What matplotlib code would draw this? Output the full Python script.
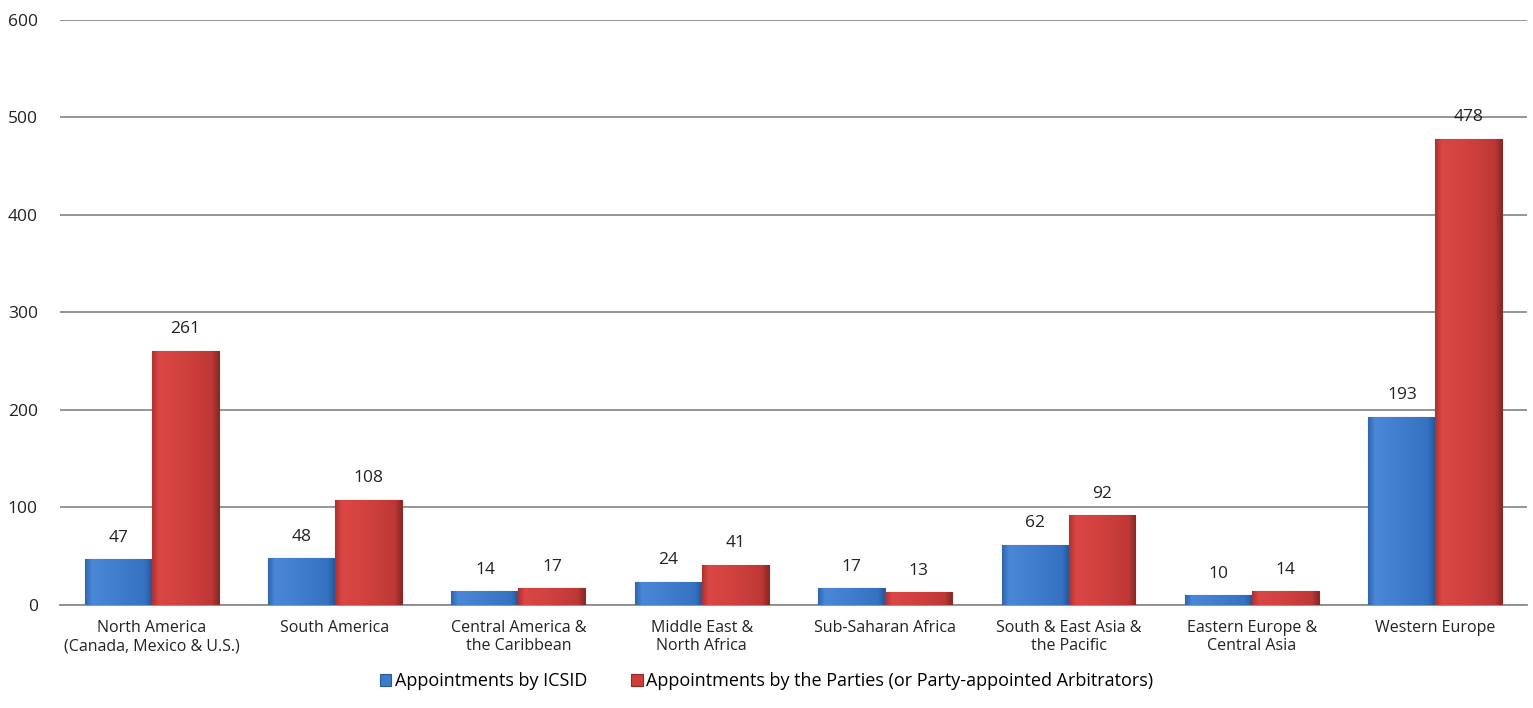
import numpy as np
import matplotlib
matplotlib.use("Agg")
import matplotlib.pyplot as plt
from matplotlib.colors import LinearSegmentedColormap

plt.rcParams['font.family'] = ['Open Sans', 'DejaVu Sans']

categories = [
    "North America\n(Canada, Mexico & U.S.)",
    "South America",
    "Central America &\nthe Caribbean",
    "Middle East &\nNorth Africa",
    "Sub-Saharan Africa",
    "South & East Asia &\nthe Pacific",
    "Eastern Europe &\nCentral Asia",
    "Western Europe",
]
icsid = [47, 48, 14, 24, 17, 62, 10, 193]
parties = [261, 108, 17, 41, 13, 92, 14, 478]
series_names = ["Appointments by ICSID",
                "Appointments by the Parties (or Party-appointed Arbitrators)"]

# subtle bevel: darker at both edges, lighter in the middle
blue_cmap = LinearSegmentedColormap.from_list(
    "b", [(0, "#3267ae"), (0.1, "#4a87d6"), (0.5, "#407dcd"), (0.9, "#3672c2"), (1, "#2a5797")])
red_cmap = LinearSegmentedColormap.from_list(
    "r", [(0, "#ad3432"), (0.1, "#da4744"), (0.5, "#d0413e"), (0.9, "#be3836"), (1, "#8a2826")])

fig = plt.figure(figsize=(15.33, 7.08), dpi=100)
ax = fig.add_axes([0.0391, 0.1455, 0.957, 0.8263])

x = np.arange(len(categories))
w = 0.365
b1 = ax.bar(x - w / 2, icsid, w, color="#3f7acb", edgecolor="#2a5a9e", linewidth=0.8,
            label=series_names[0], zorder=3)
b2 = ax.bar(x + w / 2, parties, w, color="#cf3f3c", edgecolor="#8f2a28", linewidth=0.8,
            label=series_names[1], zorder=3)

grad = np.linspace(0, 1, 64).reshape(1, -1)
for bars, cmap in ((b1, blue_cmap), (b2, red_cmap)):
    for r in bars:
        x0, y0 = r.get_x(), r.get_y()
        im = ax.imshow(grad, cmap=cmap, aspect="auto", zorder=3.5,
                       extent=[x0, x0 + r.get_width(), y0, y0 + r.get_height()])
        im.set_clip_path(r)

for bars in (b1, b2):
    for r in bars:
        h = r.get_height()
        ax.text(r.get_x() + r.get_width() / 2, h + 14, str(int(h)),
                ha="center", va="bottom", fontsize=12.5, color="#222222")

ax.set_xlim(-0.5, len(categories) - 0.5)
ax.set_ylim(0, 600)
ax.set_yticks(range(0, 601, 100))
ax.yaxis.grid(True, color="#8c8c8c", linewidth=1.3, zorder=0)
ax.set_axisbelow(True)
for s in ("top", "right", "left"):
    ax.spines[s].set_visible(False)
ax.spines["bottom"].set_color("#8c8c8c")
ax.spines["bottom"].set_linewidth(1.3)
ax.tick_params(axis="y", length=0, labelsize=12.5, pad=16, colors="#222222")
ax.tick_params(axis="x", length=0, labelsize=11.5, pad=11, colors="#222222")
ax.set_xticks(x)
ax.set_xticklabels(categories, linespacing=1.15)

leg = fig.legend(handles=[b1, b2], labels=series_names, loc="center",
                 bbox_to_anchor=(0.5, 0.038), ncol=2, frameon=False,
                 fontsize=13, handlelength=0.65, handleheight=0.65,
                 handletextpad=0.2, columnspacing=2.4)

fig.savefig("out.png", dpi=100)
